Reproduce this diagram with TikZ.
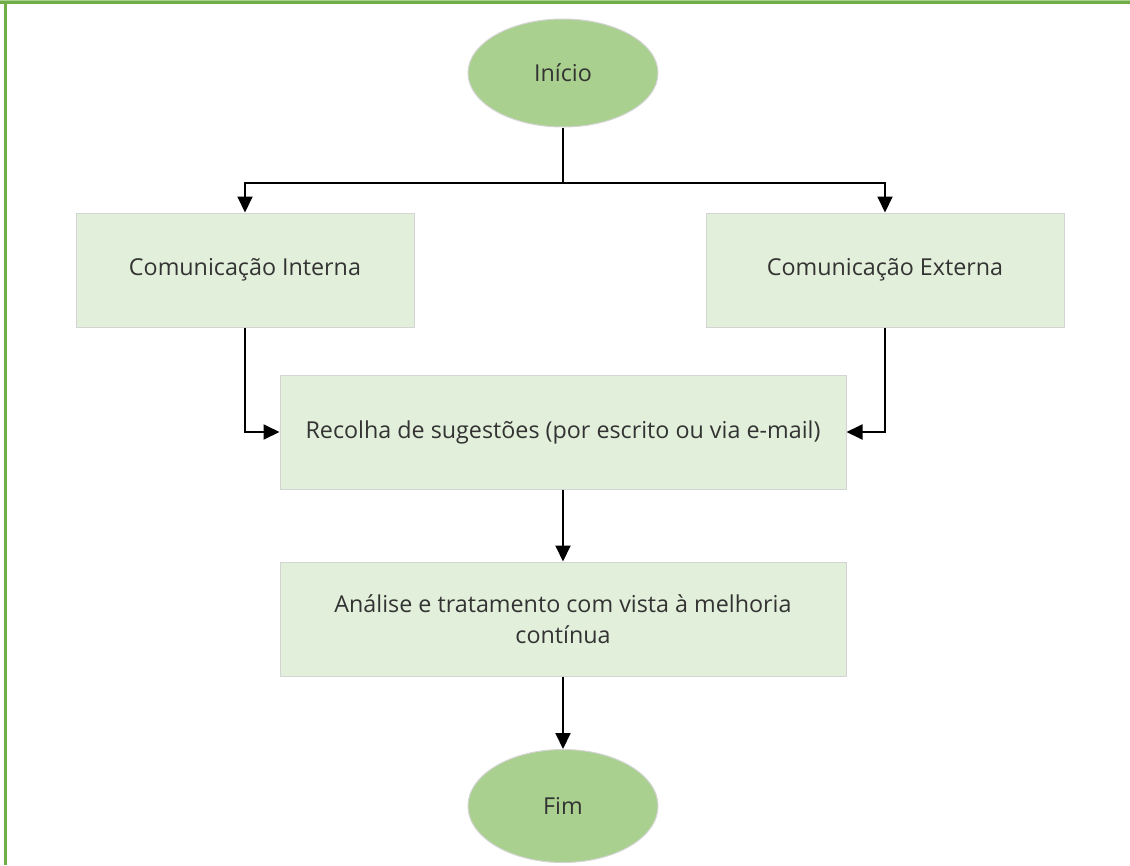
\documentclass[tikz,border=0pt]{standalone}
\usepackage{fontspec}
\setmainfont{Open Sans}
\usetikzlibrary{arrows.meta,shapes.geometric}
\definecolor{termfill}{HTML}{A9D08E}
\definecolor{procfill}{HTML}{E2EFDA}
\definecolor{edgegray}{HTML}{D4D4D4}
\definecolor{framegreen}{HTML}{70AD47}
\definecolor{framelight}{HTML}{A9D18E}
\definecolor{txt}{HTML}{333333}
\begin{document}
\begin{tikzpicture}[x=1pt,y=-1pt,
  label font/.style={font=\fontsize{23.3}{31}\selectfont, text=txt},
  terminal/.style={ellipse, fill=termfill, draw=edgegray, line width=1pt,
    minimum width=190pt, minimum height=108pt, inner sep=0pt, label font},
  process/.style={rectangle, fill=procfill, draw=edgegray, line width=1pt,
    inner sep=0pt, minimum height=114pt, align=center, label font},
  flow/.style={draw=black, line width=1.9pt,
    -{Triangle[length=16pt,width=15pt]}},
  plain/.style={draw=black, line width=1.9pt}]
\useasboundingbox (0,0) rectangle (1130,865);

% page frame: top and left rules
\fill[framelight] (0,0) rectangle (1130,1.4);
\fill[framegreen] (0,1.4) rectangle (1130,3.6);
\fill[framegreen] (3.8,3) rectangle (6.6,865);

% nodes
\node[terminal] (start) at (563,73) {Início};
\node[process, minimum width=338pt] (ci) at (245,270) {Comunicação Interna};
\node[process, minimum width=358pt] (ce) at (885,270) {Comunicação Externa};
\node[process, minimum width=566pt] (rec) at (563,432)
  {Recolha de sugestões (por escrito ou via e-mail)};
\node[process, minimum width=566pt] (ana) at (563,619)
  {Análise e tratamento com vista à melhoria\\contínua};
\node[terminal, minimum height=113pt] (fim) at (563,806) {Fim};

% connectors
\coordinate (split) at (563,183);
\draw[plain] (start.south) -- (split);
\draw[flow] (split) -| (ci.north);
\draw[flow] (split) -| (ce.north);
\draw[flow] (ci.south) |- (rec.west);
\draw[flow] (ce.south) |- (rec.east);
\draw[flow] (rec.south) -- (ana.north);
\draw[flow] (ana.south) -- (fim.north);
\end{tikzpicture}
\end{document}
